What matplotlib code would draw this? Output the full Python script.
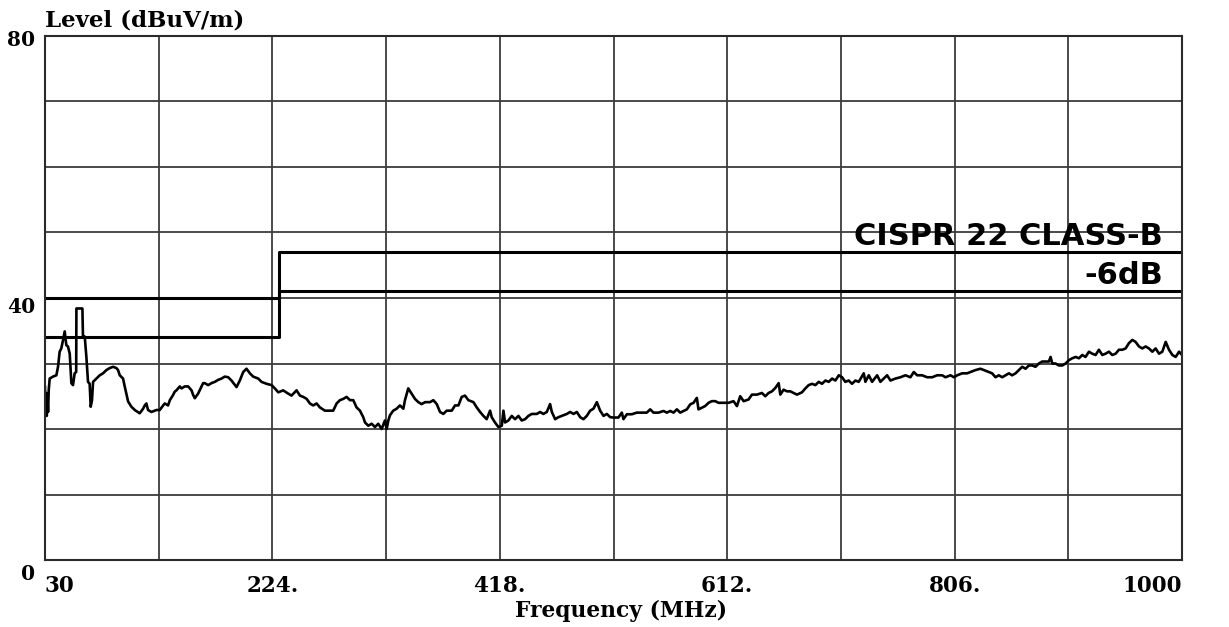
import matplotlib
matplotlib.use("Agg")
import matplotlib.pyplot as plt

# Radiated emission scan, 30 MHz - 1 GHz
freq_mhz = [
    30.0, 30.4, 31.0, 31.5, 32.0, 32.6, 33.2, 34.0, 36.8, 39.7, 41.1, 42.5, 43.9, 45.4, 46.8,
    48.2, 49.6, 51.1, 52.5, 53.9, 55.3, 56.6, 56.8, 61.9, 62.4, 63.9, 65.3, 66.7, 68.1, 69.0,
    70.1, 71.0, 73.8, 76.7, 79.5, 82.4, 85.2, 88.1, 90.9, 92.3, 93.8, 96.6, 98.0, 99.4, 100.9,
    103.7, 106.6, 110.8, 113.7, 115.1, 116.5, 117.9, 120.8, 125.1, 127.9, 130.8, 132.2, 135.0,
    136.5, 139.3, 140.7, 142.1, 145.0, 146.4, 149.3, 152.1, 155.0, 156.4, 157.8, 160.6, 163.5,
    164.9, 166.3, 169.2, 172.0, 174.9, 177.7, 180.6, 183.4,
    186.3, 189.1, 193.4, 196.2, 199.1, 201.9, 204.8, 207.6, 211.9, 214.7, 219.0, 223.3, 226.1,
    229.0, 233.2, 237.5, 240.3, 244.6, 247.5, 250.3, 253.2, 256.0, 258.8, 261.7, 264.5, 268.8,
    273.1, 275.9, 278.8, 281.6, 284.5, 287.3, 290.2, 293.0, 295.8, 298.7, 301.5, 303.0, 305.8,
    308.7, 311.5, 314.3, 317.2, 320.0, 321.5, 322.9, 324.3, 327.1, 330.0, 332.8, 335.7, 337.1,
    339.9, 342.8, 345.6,
    348.5, 351.3, 354.2, 358.5, 361.3, 364.2, 367.0, 369.8, 372.7, 377.0, 379.8, 382.7, 385.5,
    388.3, 391.2, 395.5, 398.3, 401.2, 404.0, 406.8, 409.7, 411.1, 413.9, 416.8, 419.7, 421.1,
    422.5, 425.3, 428.2, 431.0, 433.9, 436.7, 439.6, 442.4, 445.3, 449.5, 452.4, 455.2, 458.1,
    460.9, 462.4, 465.2, 468.0, 470.9, 475.2, 478.0, 480.9, 483.7, 486.6, 489.4, 492.2, 495.1,
    497.9, 500.8, 503.6, 506.5, 509.3, 512.2,
    515.0, 519.2, 522.1, 523.5, 526.4, 530.6, 534.9, 539.2, 543.4, 546.3, 549.1, 553.4, 557.7,
    560.5, 563.4, 566.2, 569.1, 571.9, 574.7, 577.6, 580.4, 583.3, 586.1, 587.5, 590.4, 593.2,
    596.1, 598.9, 601.8, 604.6, 608.9, 613.2, 617.4, 620.3, 623.1, 626.0, 630.2, 633.1, 637.4,
    641.6, 644.5, 647.3, 650.2, 653.0, 655.9, 657.3, 660.1, 663.0, 665.8, 668.7, 671.5,
    675.8, 678.7, 681.5, 684.4, 687.2, 690.1, 692.9, 695.8, 698.6, 701.5, 704.3, 707.2, 710.0,
    712.8, 715.7, 718.5, 721.4, 724.2, 728.5, 729.9, 732.8, 735.6, 739.9, 742.7, 745.6, 748.4,
    751.3, 755.5, 759.8, 764.1, 768.3, 771.2, 774.0, 778.3, 782.6, 786.9, 791.1, 795.4, 798.2,
    802.5, 805.4, 808.2, 812.5, 816.7, 819.6, 823.9, 828.1, 831.0,
    835.2, 838.0, 840.9, 843.7, 846.6, 849.4, 852.3, 855.1, 858.0, 860.8, 863.7, 866.5, 869.4,
    872.2, 875.0, 877.9, 880.7, 883.6, 886.4, 887.9, 889.3, 892.1, 895.0, 897.8, 900.7, 903.5,
    906.4, 909.2, 912.1, 914.9, 917.7, 920.6, 923.4, 926.3, 929.1, 932.0, 934.8, 937.7, 940.5,
    943.4, 946.2, 949.1, 951.9, 954.7, 957.6, 960.4, 963.3, 966.1, 969.0, 971.8, 974.7, 977.5,
    980.4, 983.2, 986.1, 988.9, 991.8, 994.6, 997.5, 1000.0,
]
level_dbuv = [
    26.4, 22.3, 25.5, 22.0, 25.0, 22.6, 26.0, 27.7, 28.0, 28.2, 29.5, 31.8, 32.3, 33.6, 34.9,
    32.8, 32.6, 31.5, 27.0, 26.7, 28.5, 28.7, 38.4, 38.4, 34.1, 34.1, 31.0, 27.2, 26.9, 23.4,
    24.4, 27.2, 27.7, 28.2, 28.5, 29.0, 29.3, 29.5, 29.3, 29.0, 28.2, 27.7, 26.5, 25.4, 24.2,
    23.4, 22.9, 22.4, 23.1, 23.6, 23.9, 22.9, 22.6, 22.9, 22.9, 23.6, 23.9, 23.6,
    24.4, 25.2, 25.7, 25.9, 26.5, 26.2, 26.5, 26.5, 25.9, 25.2, 24.7, 25.4, 26.5,
    27.0, 27.0, 26.7, 27.0, 27.2, 27.5, 27.7, 28.0,
    27.9, 27.4, 26.4, 27.4, 28.7, 29.2, 28.5, 28.0, 27.7, 27.2, 26.9, 26.7, 26.2,
    25.6, 25.9, 25.4, 25.1, 25.9, 25.1, 24.9, 24.6, 23.9, 23.6, 23.9, 23.3, 22.8,
    22.8, 22.8, 23.9, 24.4, 24.6, 24.9, 24.4, 24.4, 23.3, 22.8, 21.8, 21.0, 20.5,
    20.8, 20.3, 20.8, 20.0, 21.3, 20.0, 21.3, 22.1, 22.8, 23.1, 23.6, 23.1, 24.4,
    26.2, 25.4, 24.6,
    24.1, 23.8, 24.1, 24.1, 24.4, 23.8, 22.6, 22.3, 22.8, 22.8, 23.6, 23.6, 24.9,
    25.1, 24.4, 24.1, 23.3, 22.6, 22.0, 21.5, 22.8, 21.8, 21.0, 20.3, 20.5, 22.8,
    21.0, 21.3, 22.0, 21.5, 22.0, 21.3, 21.5, 22.0, 22.3, 22.3, 22.6, 22.3, 22.6,
    23.8, 22.6, 21.5, 21.8, 22.0, 22.3, 22.6, 22.3, 22.6, 21.8, 21.5, 22.0, 22.8,
    23.1, 24.1, 22.8, 22.0, 22.3, 21.8,
    21.75, 21.75, 22.5, 21.5, 22.25, 22.25, 22.5, 22.5, 22.5, 23.0, 22.5, 22.5, 22.75,
    22.5, 22.75, 22.5, 23.0, 22.5, 22.75, 23.0, 23.75, 24.0, 24.75, 23.0, 23.25, 23.5,
    24.0, 24.25, 24.25, 24.0, 24.0, 24.0, 24.25, 23.5, 25.0, 24.25, 24.5, 25.25, 25.25,
    25.5, 25.0, 25.5, 25.75, 26.25, 27.0, 25.25, 26.0, 25.75, 25.75, 25.5, 25.25,
    25.6, 26.2, 26.7, 26.9, 26.7, 27.2, 26.9, 27.4, 27.2, 27.7, 27.4, 28.2, 27.9,
    27.2, 27.4, 26.9, 27.4, 27.2, 28.5, 27.2, 28.2, 27.2, 28.2, 27.2, 27.7, 28.2,
    27.4, 27.7, 27.9, 28.2, 27.9, 28.7, 28.2, 28.2, 27.9, 27.9, 28.2, 28.2, 27.9,
    28.2, 27.9, 28.2, 28.5, 28.5, 28.7, 29.0, 29.2, 29.0,
    28.7, 28.5, 27.9, 28.2, 27.9, 28.2, 28.5, 28.2, 28.5, 29.0, 29.5, 29.2, 29.7,
    29.7, 29.5, 30.0, 30.3, 30.3, 30.3, 31.0, 30.0, 30.0, 29.7, 29.7, 30.0, 30.5,
    30.8, 31.0, 30.8, 31.3, 31.0, 31.8, 31.5, 31.3, 32.1, 31.3, 31.5, 31.8, 31.3,
    31.5, 32.1, 32.1, 32.3, 33.1, 33.6, 33.3, 32.6, 32.3, 32.6, 32.3, 31.8, 32.3,
    31.5, 31.8, 33.3, 32.1, 31.3, 31.0, 31.8, 31.3,
]

# CISPR 22 Class B limit and the -6 dB margin line (step at 230 MHz)
limit_freq = [30, 230, 1000]
class_b_limit = [40, 47, 47]
margin_limit = [34, 41, 41]

major_freqs = [30, 224, 418, 612, 806, 1000]
major_labels = ["30", "224.", "418.", "612.", "806.", "1000"]
minor_freqs = [127, 321, 515, 709, 903]
level_labels = [0, 40, 80]

W, H = 1229, 627
fig = plt.figure(figsize=(W / 100, H / 100), dpi=100)
ax = fig.add_axes([45 / W, 1 - 560 / H, 1137 / W, 524 / H])

serif = {"family": "DejaVu Serif", "weight": "bold"}
grid_col = "#3c3c3c"

ax.set_xlim(30, 1000)
ax.set_ylim(0, 80)
ax.set_xticks(major_freqs)
ax.set_xticks(minor_freqs, minor=True)
ax.set_xticklabels(major_labels, fontdict=serif, fontsize=15.5)
ax.set_yticks(level_labels)
ax.set_yticks([10, 20, 30, 50, 60, 70], minor=True)
ax.set_yticklabels([])
ax.tick_params(which="both", length=0)
ax.tick_params(axis="x", pad=11)
xl = ax.get_xticklabels()
xl[0].set_horizontalalignment("left")
xl[-1].set_horizontalalignment("right")

ax.grid(True, which="both", color=grid_col, linewidth=1.3)
ax.set_axisbelow(True)
for s in ax.spines.values():
    s.set_color("#2a2a2a")
    s.set_linewidth(1.5)

# Level tick labels, offset below their grid lines
for val, dy in zip(level_labels, [-14, -9, -4]):
    ax.annotate(str(val), xy=(0, val), xycoords=("axes fraction", "data"),
                xytext=(-7, dy * 0.72), textcoords="offset points",
                ha="right", va="center", fontsize=14.5, **serif)

ax.plot(limit_freq, class_b_limit, drawstyle="steps-post", color="black", lw=2.2)
ax.plot(limit_freq, margin_limit, drawstyle="steps-post", color="black", lw=2.2)
ax.plot(freq_mhz, level_dbuv, color="black", lw=1.9)

ax.text(984, 48.1, "CISPR 22 CLASS-B", ha="right", va="baseline",
        fontsize=22, fontweight="bold", family="DejaVu Sans")
ax.text(984, 42.2, "-6dB", ha="right", va="baseline",
        fontsize=22, fontweight="bold", family="DejaVu Sans")

ax.annotate("Level (dBuV/m)", xy=(0, 1), xycoords="axes fraction",
            xytext=(0, 7), textcoords="offset points", ha="left", va="baseline",
            fontsize=16.5, **serif)
fig.text(621 / W, 1 - 617 / H, "Frequency (MHz)", ha="center", va="baseline",
         fontsize=15.7, **serif)

fig.savefig("out.png", dpi=100, facecolor="white")
